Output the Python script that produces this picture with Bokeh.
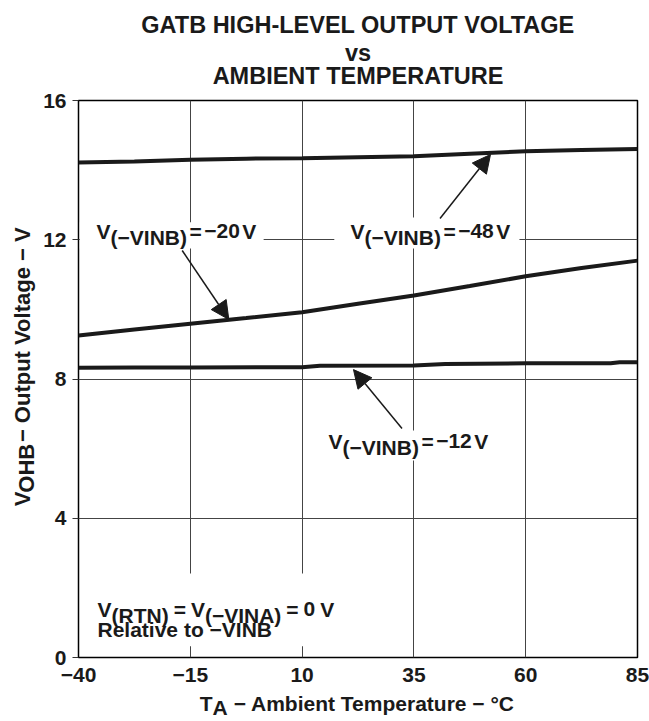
from bokeh.plotting import figure
from bokeh.layouts import column, row
from bokeh.models import (FixedTicker, Label, Arrow, NormalHead, BoxAnnotation, Range1d)
from bokeh.embed import file_html
from bokeh.resources import INLINE

# ---- data ----
temp_m48 = [-40, -27.5, -15, -2.5, 10, 22.5, 35, 47.5, 60, 72.5, 85]
volt_m48 = [14.22, 14.25, 14.30, 14.33, 14.34, 14.37, 14.40, 14.47, 14.54, 14.58, 14.61]

temp_m20 = [-40, -27.5, -15, -2.5, 10, 22.5, 35, 47.5, 60, 72.5, 85]
volt_m20 = [9.25, 9.42, 9.59, 9.75, 9.92, 10.16, 10.40, 10.67, 10.95, 11.19, 11.40]

temp_m12 = [-40, -27.5, -15, 10, 14, 35, 42, 60, 79, 81, 85]
volt_m12 = [8.32, 8.33, 8.33, 8.34, 8.38, 8.39, 8.43, 8.45, 8.45, 8.48, 8.48]

x_ticks = [-40, -15, 10, 35, 60, 85]
x_tick_labels = ["\u221240", "\u221215", "10", "35", "60", "85"]
y_ticks = [0, 4, 8, 12, 16]
y_tick_labels = ["0", "4", "8", "12", "16"]

title_lines = ["GATB HIGH-LEVEL OUTPUT VOLTAGE", "vs", "AMBIENT TEMPERATURE"]

FONT = "Liberation Sans"
INK = "#1a1a1a"
FIX = 8  # baseline correction (px, upward) for Label text
W = {"V": .667, "(": .333, ")": .333, "\u2212": .584, "I": .278, "N": .722, "B": .722,
     "=": .584, " ": .278, "0": .556, "1": .556, "2": .556, "4": .556,
     "8": .556, "R": .722, "T": .611, "A": .722, "e": .556, "l": .278, "a": .556,
     "t": .333, "i": .278, "v": .556, "o": .611, "m": .889, "b": .611, "n": .611,
     "p": .611, "r": .389, "u": .611, "g": .611, "O": .778, "H": .722, "C": .722,
     "\u00b0": .4, "c": .556, "P": .667, "M": .833, "E": .667, "G": .778, "L": .611}


def tw(s, size):
    return sum(W.get(c, 0.6) for c in s) * size


def blank(w, h):
    f = figure(width=w, height=h, output_backend="svg", toolbar_location=None,
               title=None, x_range=Range1d(0, w), y_range=Range1d(0, h),
               x_axis_location=None, y_axis_location=None, min_border=0)
    f.outline_line_color = None
    f.grid.visible = False
    f.background_fill_color = "white"
    f.border_fill_color = "white"
    return f


def compose(fig, x, y, pieces, size=21, xo=0, yo=0):
    """pieces: (text, vertical shift px, gap px before the piece)"""
    off = xo
    for text, dy, gap in pieces:
        off += gap
        fig.add_layout(Label(x=x, y=y, x_offset=off, y_offset=yo + dy + FIX, text=text,
                             text_font=FONT, text_font_style="bold",
                             text_font_size=f"{size}px", text_color=INK,
                             text_baseline="alphabetic", text_align="left"))
        off += tw(text, size)
    return off - xo


# ---------------- main plot ----------------
p = figure(width=611, height=604, output_backend="svg", toolbar_location=None,
           title=None, x_range=Range1d(-40, 85), y_range=Range1d(0, 16),
           min_border_left=40, min_border_right=12, min_border_top=12,
           min_border_bottom=35)
p.background_fill_color = "white"
p.border_fill_color = "white"
p.outline_line_color = "black"
p.outline_line_width = 1.5

p.xaxis.ticker = FixedTicker(ticks=x_ticks)
p.yaxis.ticker = FixedTicker(ticks=y_ticks)
p.xaxis.major_label_overrides = dict(zip(x_ticks, x_tick_labels))
p.yaxis.major_label_overrides = dict(zip(y_ticks, y_tick_labels))
for ax in (p.xaxis, p.yaxis):
    ax.axis_line_color = None
    ax.minor_tick_line_color = None
    ax.major_label_text_font = FONT
    ax.major_label_text_font_style = "bold"
    ax.major_label_text_font_size = "21px"
    ax.major_label_text_color = INK
    ax.major_tick_in = 0
p.xaxis.major_tick_line_color = None
p.xaxis.major_tick_out = 0
p.xaxis.major_label_standoff = 10
p.yaxis.major_tick_out = 6
p.yaxis.major_tick_line_color = "#333333"
p.yaxis.major_label_standoff = 6

p.grid.grid_line_color = "#444444"
p.grid.grid_line_width = 1

for xs, ys in ((temp_m48, volt_m48), (temp_m20, volt_m20), (temp_m12, volt_m12)):
    p.line(xs, ys, line_color=INK, line_width=4)

# white masks hiding the grid lines behind the labels
masks = [(-39.7, 1.4, 12.50, 11.75), (17.2, 58.6, 12.64, 11.75),
         (14.6, 50.8, 6.52, 5.66), (-36.9, 17.9, 2.41, 0.32)]
for l, r, t, b in masks:
    p.add_layout(BoxAnnotation(left=l, right=r, top=t, bottom=b, fill_color="white",
                               fill_alpha=1, line_color=None))

SUB = -6
G = 2.5
compose(p, -35.97, 12.01, [("V", 0, 0), ("(\u2212VINB)", SUB, 0), ("=", 0, G),
                           ("\u221220", 0, G), ("V", 0, G)])
compose(p, 20.82, 12.01, [("V", 0, 0), ("(\u2212VINB)", SUB, 0), ("=", 0, G),
                          ("\u221248", 0, G), ("V", 0, G)])
compose(p, 15.9, 5.98, [("V", 0, 0), ("(\u2212VINB)", SUB, 0), ("=", 0, G),
                        ("\u221212", 0, G), ("V", 0, G)])
compose(p, -35.75, 1.15, [("V", 0, 0), ("(RTN)", SUB, 0), ("=", 0, 5), ("V", 0, 5),
                          ("(\u2212VINA)", SUB, 0), ("=", 0, 5), ("0", 0, 5),
                          ("V", 0, 5)])
compose(p, -35.75, 1.15, [("Relative to \u2212VINB", 0, 0)], yo=-20)

head = dict(size=18, fill_color=INK, line_color=INK)
p.add_layout(Arrow(end=NormalHead(**head), x_start=-16.81, y_start=11.69, x_end=-6.39,
                   y_end=9.71, line_width=1.5, line_color=INK))
p.add_layout(Arrow(end=NormalHead(**head), x_start=40.84, y_start=12.61, x_end=52.13,
                   y_end=14.45, line_width=1.5, line_color=INK))
p.add_layout(Arrow(end=NormalHead(**head), x_start=32.34, y_start=6.58, x_end=21.49,
                   y_end=8.27, line_width=1.5, line_color=INK))

# ---------------- title strip ----------------
tfig = blank(649, 88)
for txt, base in zip(title_lines, (88 - 32, 88 - 60, 88 - 83)):
    tfig.add_layout(Label(x=357.5, y=base, y_offset=FIX, text=txt, text_font=FONT,
                          text_font_style="bold", text_font_size="23.5px",
                          text_color=INK, text_align="center",
                          text_baseline="alphabetic"))

# ---------------- y axis title strip (rotated) ----------------
YH = 604
yfig = blank(38, YH)
yl = [("V", 0, 0), ("OHB", 4, 0), ("\u2212 Output Voltage \u2212 V", 0, 6)]
YS = 22
total = sum(tw(t, YS) + g for t, _, g in yl)
pos = YH - (385 - 88) - total / 2
for text, dx, gap in yl:
    pos += gap
    yfig.add_layout(Label(x=22 + dx, y=pos, text=text, text_font=FONT,
                          text_font_style="bold", text_font_size=f"{YS}px",
                          text_color=INK, text_baseline="middle",
                          text_align="left", angle=1.5708))
    pos += tw(text, YS)

# ---------------- x axis title strip ----------------
xfig = blank(649, 28)
xl = [("T", 0, 0), ("A", -4, 0), ("\u2212 Ambient Temperature \u2212 \u00b0C", 0, 6)]
total = sum(tw(t, 21) + g for t, _, g in xl)
compose(xfig, 357.5, 9, xl, size=21, xo=-total / 2)

layout = column(tfig, row(yfig, p, spacing=0), xfig, spacing=0)
open("out.html", "w").write(file_html(layout, INLINE))
